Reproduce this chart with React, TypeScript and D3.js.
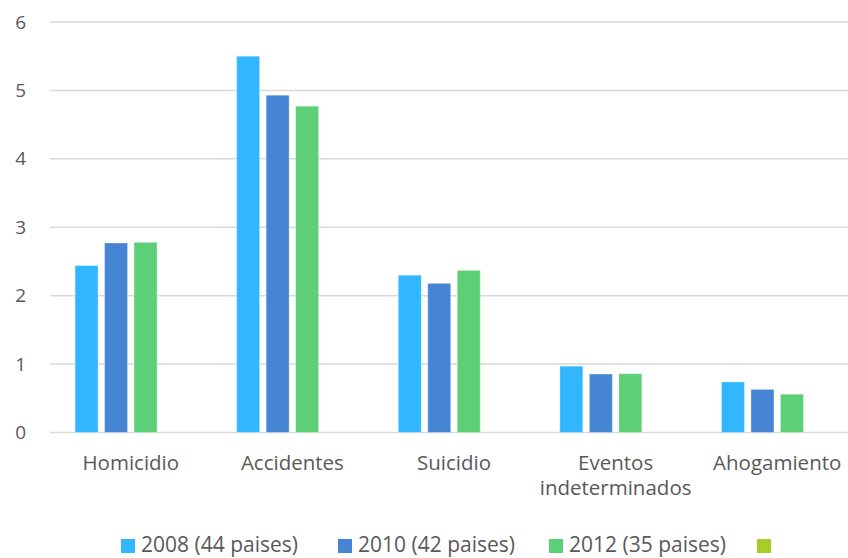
import React from "react";
import * as d3 from "d3";

const categories = ["Homicidio", "Accidentes", "Suicidio", "Eventos\nindeterminados", "Ahogamiento"];
const seriesNames = ["2008 (44 paises)", "2010 (42 paises)", "2012 (35 paises)", ""];
const v2008 = [2.44, 5.5, 2.3, 0.97, 0.74];
const v2010 = [2.77, 4.93, 2.18, 0.855, 0.63];
const v2012 = [2.78, 4.77, 2.37, 0.86, 0.56];
const v4 = [0, 0, 0, 0, 0];
const yTicks = [0, 1, 2, 3, 4, 5, 6];
const colors = ["#32B6FF", "#4685D4", "#5CCF77", "#A8CD26"];

const W = 848;
const H = 558;
const FONT = "'Open Sans', sans-serif";
const TEXT = "#595959";

export default function App() {
  const series = [v2008, v2010, v2012, v4];
  const y = d3.scaleLinear().domain([0, 6]).range([432.5, 22]);
  const x0 = d3.scaleBand<string>().domain(categories).range([50, 858]).paddingInner(0.31).paddingOuter(0.155);
  const x1 = d3.scaleBand<number>().domain(d3.range(series.length)).range([0, x0.bandwidth()]).paddingInner(0.22);
  const legendX = [121, 338, 549, 757];

  return (
    <svg width={W} height={H} style={{ position: "absolute", left: 0, top: 0, background: "#fff" }}>
      {yTicks.map((t) => (
        <g key={t}>
          <line x1={50} x2={W} y1={y(t)} y2={y(t)} stroke="#d9d9d9" strokeWidth={1.5} />
          <text x={26} y={y(t)} dy="0.35em" textAnchor="end" fontFamily={FONT} fontSize={19} fill={TEXT}>
            {t}
          </text>
        </g>
      ))}
      {categories.map((c, ci) => (
        <g key={c} transform={`translate(${x0(c)},0)`}>
          {series.map((s, si) =>
            s[ci] > 0 ? (
              <rect
                key={si}
                x={x1(si)}
                y={y(s[ci])}
                width={x1.bandwidth()}
                height={y(0) - y(s[ci])}
                fill={colors[si]}
                stroke="rgba(255,255,255,0.35)"
                strokeWidth={1}
              />
            ) : null
          )}
          <text
            x={x0.bandwidth() / 2}
            y={470}
            textAnchor="middle"
            fontFamily={FONT}
            fontSize={20.5}
            fill={TEXT}
          >
            {c.split("\n").map((line, li) => (
              <tspan key={li} x={x0.bandwidth() / 2} dy={li === 0 ? 0 : 24.5}>
                {line}
              </tspan>
            ))}
          </text>
        </g>
      ))}
      {seriesNames.map((n, i) => (
        <g key={i} transform={`translate(${legendX[i]},539)`}>
          <rect width={14} height={14} fill={colors[i]} />
          <text x={20} y={13} fontFamily={FONT} fontSize={21} fill={TEXT}>
            {n}
          </text>
        </g>
      ))}
    </svg>
  );
}
